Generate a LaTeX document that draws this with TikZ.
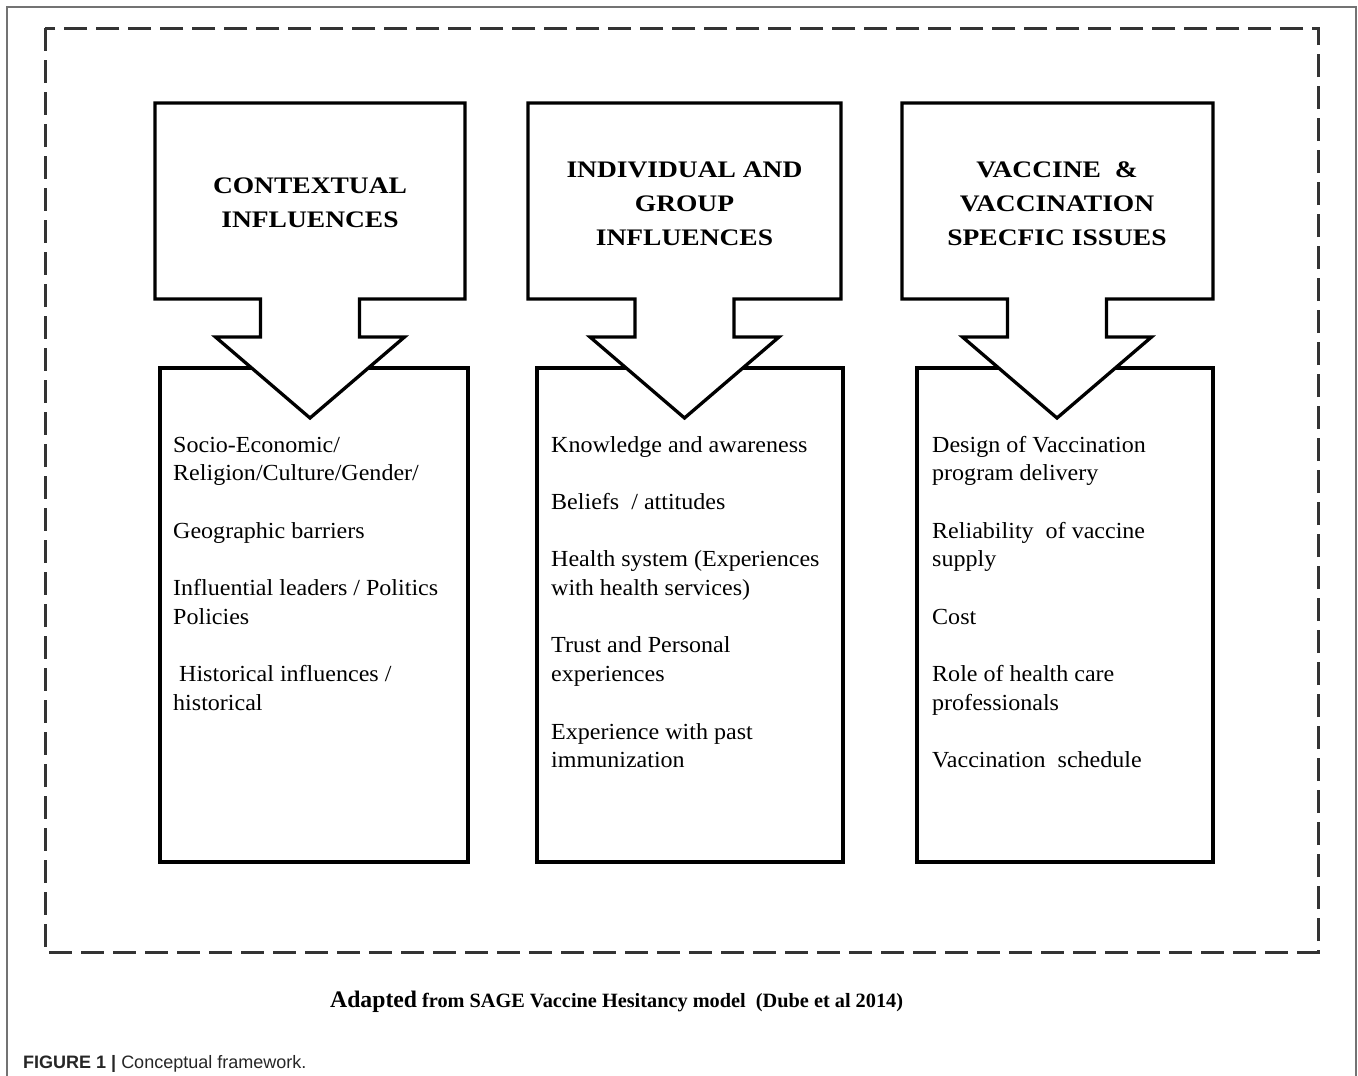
\documentclass[tikz,border=0pt]{standalone}
\usepackage{fontspec}
\setmainfont{Liberation Serif}
\newfontfamily\headfont[FakeStretch=1.16]{Liberation Serif}
\newfontfamily\bodyfont[FakeStretch=1.045]{Liberation Serif}
\newfontfamily\capsans{Liberation Sans}
\begin{document}
\begin{tikzpicture}[x=1pt,y=-1pt,
  frameline/.style={draw=black!55, line width=1.6pt},
  dashframe/.style={draw=black!80, line width=3pt, dash pattern=on 23pt off 9pt},
  boxline/.style={draw=black, line width=3.3pt, fill=white, line join=miter},
  listbox/.style={rectangle, boxline, inner sep=0pt, outer sep=0pt, anchor=north west},
  heading/.style={inner sep=0pt, anchor=base, font=\headfont\bfseries\fontsize{23.7}{34}\selectfont},
  itemtext/.style={inner sep=0pt, anchor=base west, font=\bodyfont\fontsize{23}{28.7}\selectfont}]
\useasboundingbox (0,0) rectangle (1358,1076);
\fill[white] (0,0) rectangle (1358,1076);
% outer frame
\draw[frameline] (7,1076) -- (7,7) -- (1356,7) -- (1356,1076);
% dashed frame
\draw[dashframe] (45,28) rectangle (1318,952);
% lower boxes
\node[listbox, minimum width=308pt, minimum height=494pt] (low1) at (160,368) {};
\node[listbox, minimum width=306pt, minimum height=494pt] (low2) at (537,368) {};
\node[listbox, minimum width=296pt, minimum height=494pt] (low3) at (917,368) {};
% arrow shapes
\foreach \L/\R/\c in {155/465/310, 528/841/684.5, 902/1213/1057}{
  \draw[boxline] (\L,103) -- (\R,103) -- (\R,299) -- (\c+49.5,299) -- (\c+49.5,337)
    -- (\c+94.5,337) -- (\c,418) -- (\c-94.5,337) -- (\c-49.5,337) -- (\c-49.5,299)
    -- (\L,299) -- cycle;
}
% headings
\node[heading] (hd1) at (310,193) {\parbox[t]{300pt}{\centering CONTEXTUAL\\ INFLUENCES}};
\node[heading] (hd2) at (684.5,177) {\parbox[t]{300pt}{\centering INDIVIDUAL AND\\ GROUP\\ INFLUENCES}};
\node[heading] (hd3) at (1057,177) {\parbox[t]{300pt}{\centering VACCINE\ \ \&\\ VACCINATION\\ SPECFIC ISSUES}};
% list texts
\node[itemtext] (t1) at (173,452) {\parbox[t]{290pt}{\raggedright
  Socio-Economic/\\ Religion/Culture/Gender/\\[28.7pt]
  Geographic barriers\\[28.7pt]
  Influential leaders / Politics\\ Policies\\[28.7pt]
  \hspace*{6pt}Historical influences /\\ historical}};
\node[itemtext] (t2) at (551,452) {\parbox[t]{290pt}{\raggedright
  Knowledge and awareness\\[28.7pt]
  Beliefs\ \ / attitudes\\[28.7pt]
  Health system (Experiences\\ with health services)\\[28.7pt]
  Trust and Personal\\ experiences\\[28.7pt]
  Experience with past\\ immunization}};
\node[itemtext] (t3) at (932,452) {\parbox[t]{280pt}{\raggedright
  Design of Vaccination\\ program delivery\\[28.7pt]
  Reliability\ \ of vaccine\\ supply\\[28.7pt]
  Cost\\[28.7pt]
  Role of health care\\ professionals\\[28.7pt]
  Vaccination\ \ schedule}};
% source line
\node[inner sep=0pt, anchor=base west] (src) at (330,1007)
  {{\bfseries\fontsize{23.7}{28}\selectfont Adapted}\hspace{5pt}{\bfseries\fontsize{20.3}{24}\selectfont from SAGE Vaccine Hesitancy model\ \ (Dube et al 2014)}};
% figure caption
\node[inner sep=0pt, anchor=base west, text=black!85] (cap) at (23,1068)
  {\capsans\fontsize{18}{22}\selectfont\textbf{FIGURE 1 |} Conceptual framework.};
\end{tikzpicture}
\end{document}
